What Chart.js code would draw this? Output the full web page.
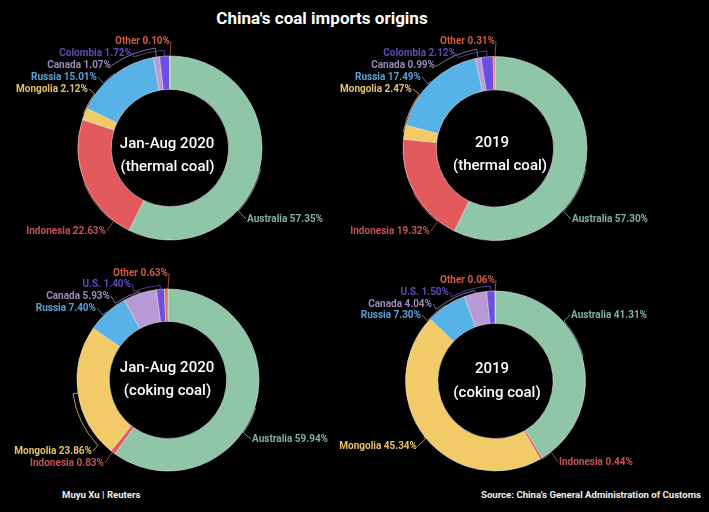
<!DOCTYPE html>
<html>
<head>
<meta charset="utf-8">
<script src="https://cdn.jsdelivr.net/npm/chart.js"></script>
<style>
    html, body { margin: 0; background: #000; }
    #page { position: relative; width: 709px; height: 512px; overflow: hidden; background: #000; font-family: Roboto, sans-serif; }
    canvas { position: absolute; }
    .txt { position: absolute; color: #fff; white-space: nowrap; }
    #title { left: 0; width: 644px; top: 7px; text-align: center; font-size: 17px; font-weight: 700; line-height: 22px; }
    .foot { top: 489px; font-size: 9.6px; font-weight: 700; line-height: 12px; color: #eee; }
</style>
</head>
<body>
<div id="page">
    <div id="title" class="txt">China's coal imports origins</div>
    <div class="txt foot" style="left:62px">Muyu Xu | Reuters</div>
    <div class="txt foot" style="left:481px">Source: China's General Administration of Customs</div>
</div>
<script>
    // data, clockwise from 12 o'clock
    const thermalNames = ['Australia', 'Indonesia', 'Mongolia', 'Russia', 'Canada', 'Colombia', 'Other'];
    const cokingNames = ['Australia', 'Indonesia', 'Mongolia', 'Russia', 'Canada', 'U.S.', 'Other'];
    const thermal2020 = [57.35, 22.63, 2.12, 15.01, 1.07, 1.72, 0.10];
    const thermal2019 = [57.30, 19.32, 2.47, 17.49, 0.99, 2.12, 0.31];
    const coking2020 = [59.94, 0.83, 23.86, 7.40, 5.93, 1.40, 0.63];
    const coking2019 = [41.31, 0.44, 45.34, 7.30, 4.04, 1.50, 0.06];

    const sliceColors = ['#8fc6a8', '#e25a5c', '#f2ca68', '#57b2e8', '#b89ad6', '#6a4fe0', '#ec6a4c'];
    const textColors = ['#7fb297', '#c25255', '#e6c064', '#5aa0d0', '#9c88ba', '#5f4bb8', '#d05c3c'];

    // label anchors in page pixels: [x, y, align], one per slice
    // stub = how far the leader leaves the ring before it runs along it
    const charts = [
        {
            id: 'c1', box: [0, 20, 330, 240], cx: 170, cy: 148, r: 92, inner: 61,
            names: thermalNames, values: thermal2020,
            centre: [['Jan-Aug 2020', 167, 144], ['(thermal coal)', 167.5, 167]],
            labels: [[247, 219, 'left'], [106, 231, 'right'], [88, 89, 'right'], [97, 77, 'right'], [111, 65, 'right'], [132, 53, 'right'], [170, 41, 'right']],
            stubs: [1, 1, 1, 1, 9, 6, 0]
        },
        {
            id: 'c2', box: [330, 20, 379, 240], cx: 495, cy: 148.5, r: 92, inner: 61,
            names: thermalNames, values: thermal2019,
            centre: [['2019', 492, 143], ['(thermal coal)', 500, 166]],
            labels: [[572, 219, 'left'], [430, 231, 'right'], [412, 89, 'right'], [421, 77, 'right'], [435, 65, 'right'], [456, 53, 'right'], [495, 41, 'right']],
            stubs: [1, 1, 1, 1, 9, 6, 0]
        },
        {
            id: 'c3', box: [0, 260, 330, 215], cx: 168, cy: 380, r: 91, inner: 61,
            names: cokingNames, values: coking2020,
            centre: [['Jan-Aug 2020', 167, 368], ['(coking coal)', 167.5, 391]],
            labels: [[252, 439, 'left'], [104, 463, 'right'], [92, 451, 'right'], [96, 308, 'right'], [110, 296, 'right'], [131, 284, 'right'], [168, 273, 'right']],
            stubs: [1, 1, 5, 1, 2, 4, 0]
        },
        {
            id: 'c4', box: [330, 260, 379, 215], cx: 495.5, cy: 381, r: 90, inner: 60,
            names: cokingNames, values: coking2019,
            centre: [['2019', 492, 369], ['(coking coal)', 497, 393]],
            labels: [[571, 315, 'left'], [559, 462, 'left'], [417, 446, 'right'], [421, 315, 'right'], [432, 304, 'right'], [449, 292, 'right'], [495, 280, 'right']],
            stubs: [1, 1, 1, 1, 3, 5, 0]
        }
    ];

    // leader lines + value labels + the two lines in the hole
    const ringLabels = {
        id: 'ringLabels',
        afterDatasetsDraw(chart, args, cfg) {
            const ctx = chart.ctx;
            const meta = chart.getDatasetMeta(0);
            const ox = cfg.box[0], oy = cfg.box[1];
            ctx.save();
            meta.data.forEach((arc, i) => {
                const [lx, ly, align] = cfg.labels[i];
                const x = lx - ox, y = ly - oy;
                const cx = arc.x, cy = arc.y;
                const mid = (arc.startAngle + arc.endAngle) / 2;
                const rr = arc.outerRadius + cfg.stubs[i];
                let end = Math.atan2(y - cy, x - cx);
                // keep both angles on the same turn so the arc takes the short way
                while (end - mid > Math.PI) end -= Math.PI * 2;
                while (end - mid < -Math.PI) end += Math.PI * 2;
                ctx.beginPath();
                ctx.moveTo(cx + arc.outerRadius * Math.cos(mid), cy + arc.outerRadius * Math.sin(mid));
                ctx.arc(cx, cy, rr, mid, end, end < mid);
                ctx.lineTo(x + (align === 'left' ? -1 : 1), y);
                ctx.strokeStyle = textColors[i];
                ctx.lineWidth = 0.8;
                ctx.stroke();

                ctx.font = '700 10px Roboto';
                ctx.textBaseline = 'middle';
                ctx.textAlign = align;
                ctx.fillStyle = textColors[i];
                ctx.fillText(cfg.names[i] + ' ' + cfg.values[i].toFixed(2) + '%', x, y);
            });
            ctx.font = '500 15px Roboto';
            ctx.textAlign = 'center';
            ctx.textBaseline = 'middle';
            ctx.fillStyle = '#fff';
            cfg.centre.forEach(c => ctx.fillText(c[0], c[1] - ox, c[2] - oy));
            ctx.restore();
        }
    };

    const page = document.getElementById('page');
    charts.forEach(cfg => {
        const [left, top, w, h] = cfg.box;
        const holder = document.createElement('div');
        holder.style.cssText = `position:absolute;left:${left}px;top:${top}px;width:${w}px;height:${h}px`;
        const canvas = document.createElement('canvas');
        canvas.id = cfg.id;
        holder.appendChild(canvas);
        page.appendChild(holder);

        const size = cfg.r + 4;
        new Chart(canvas.getContext('2d'), {
            type: 'doughnut',
            data: {
                labels: cfg.names,
                datasets: [{
                    data: cfg.values,
                    backgroundColor: sliceColors,
                    borderColor: 'rgba(240, 240, 235, 0.75)',
                    borderWidth: 0.7
                }]
            },
            options: {
                responsive: true,
                maintainAspectRatio: false,
                animation: false,
                radius: cfg.r,
                cutout: cfg.inner,
                layout: {
                    padding: {
                        left: cfg.cx - left - size,
                        right: left + w - cfg.cx - size,
                        top: cfg.cy - top - size,
                        bottom: top + h - cfg.cy - size
                    }
                },
                plugins: {
                    legend: { display: false },
                    tooltip: { enabled: false },
                    ringLabels: cfg
                }
            },
            plugins: [ringLabels]
        });
    });
</script>
</body>
</html>
